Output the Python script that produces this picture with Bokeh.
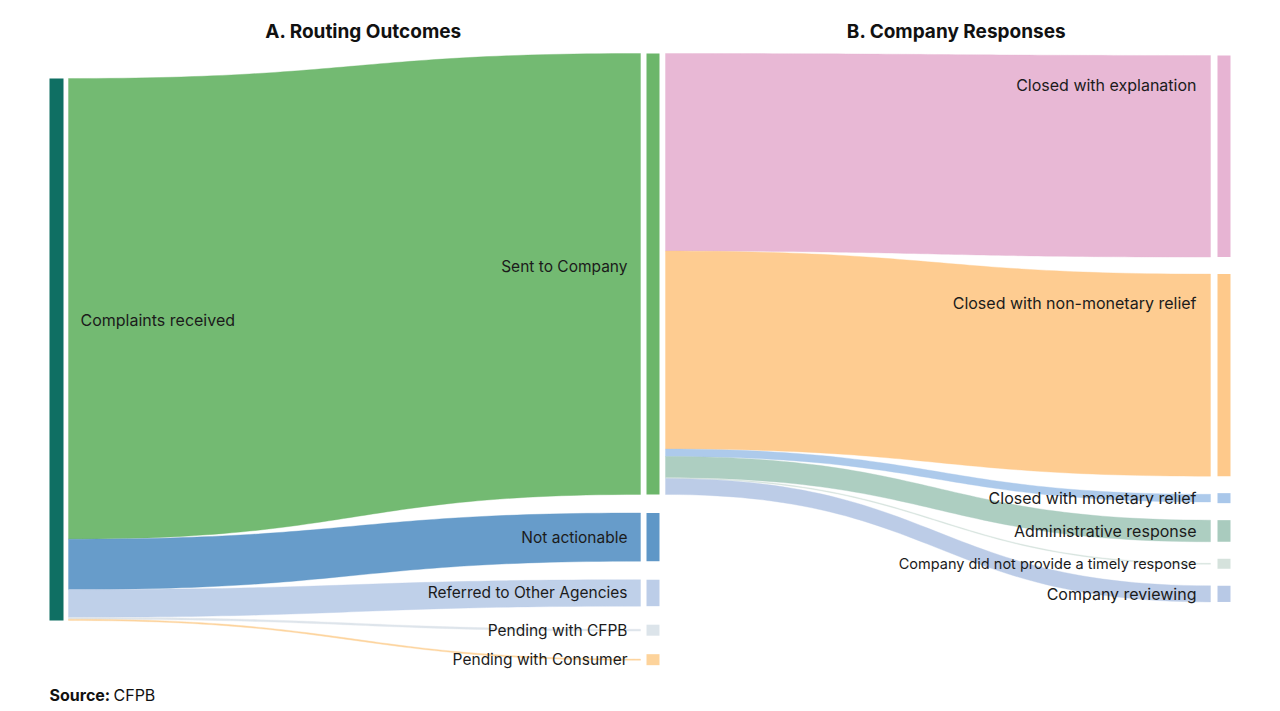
import numpy as np
from bokeh.plotting import figure
from bokeh.models import Range1d, ColumnDataSource
from bokeh.core.properties import value
from bokeh.embed import file_html
from bokeh.resources import INLINE

# ---------------- data ----------------
# Panel A: routing outcomes (% of complaints received)
a_source = "Complaints received"
a_source_color = "#0f6f63"
a_targets = ["Sent to Company", "Not actionable", "Referred to Other Agencies",
             "Pending with CFPB", "Pending with Consumer"]
a_values = [85.0, 9.3, 5.1, 0.35, 0.25]
a_colors = ["#6cb66a", "#5f97c7", "#bccde8", "#dce4ea", "#fdd39b"]

# Panel B: company responses (% of complaints sent to company)
b_targets = ["Closed with explanation", "Closed with non-monetary relief",
             "Closed with monetary relief", "Administrative response",
             "Company did not provide a timely response", "Company reviewing"]
b_values = [44.8, 44.9, 1.7, 4.8, 0.2, 3.6]
b_colors = ["#e7b4d3", "#fec98b", "#a9c7ea", "#a9cbbe", "#d5e2dc", "#b8c9e6"]

titles = ["A. Routing Outcomes", "B. Company Responses"]
source_note = ("Source:", "CFPB")

FONT = "Inter"
W, H = 1276, 707

# ---------------- layout helpers ----------------
def ribbon(x0, x1, y0t, y0b, y1t, y1b, n=60):
    t = np.linspace(0, 1, n)
    xm = (x0 + x1) / 2
    bx = (1 - t) ** 3 * x0 + 3 * (1 - t) ** 2 * t * xm + 3 * (1 - t) * t ** 2 * xm + t ** 3 * x1
    def by(a, b):
        return (1 - t) ** 3 * a + 3 * (1 - t) ** 2 * t * a + 3 * (1 - t) * t ** 2 * b + t ** 3 * b
    top = by(y0t, y1t)
    bot = by(y0b, y1b)
    return list(np.concatenate([bx, bx[::-1]])), list(np.concatenate([top, bot[::-1]]))


def stack_column(vals, top, scale, gap, min_h):
    tops, hs = [], []
    y = top
    for v in vals:
        h = max(v * scale, min_h)
        tops.append(y)
        hs.append(h)
        y += h + gap
    return tops, hs


p = figure(width=W, height=H, x_range=Range1d(0, W), y_range=Range1d(H, 0),
           output_backend="svg", toolbar_location=None, min_border=0,
           x_axis_type=None, y_axis_type=None)
p.grid.visible = False
p.outline_line_color = None
p.background_fill_color = "white"
p.border_fill_color = "white"

# ---------- panel A geometry ----------
A_src_x = (49, 63)
A_tgt_x = (646, 659)
A_link_x = (68, 640)
A_src_top, A_src_h = 78.0, 542.0
A_total = sum(a_values)
A_src_scale = A_src_h / A_total
A_tgt_scale = 5.188
a_tops, a_hs = stack_column(a_values, 53.0, A_tgt_scale, 18.5, 11.0)

# ---------- panel B geometry ----------
B_link_x = (665, 1210)
B_tgt_x = (1217, 1230)
b_src_top, b_src_h = a_tops[0], a_hs[0]
B_src_scale = b_src_h / sum(b_values)
B_tgt_scale = 4.5
b_tops, b_hs = stack_column(b_values, 55.0, B_tgt_scale, 17.0, 10.0)

# ---------- links ----------
xs_l, ys_l, cols_l = [], [], []
y = A_src_top
for v, t, h, c in zip(a_values, a_tops, a_hs, a_colors):
    w0 = v * A_src_scale
    w1 = v * A_tgt_scale
    t1 = t + (h - w1) / 2 if w1 < h else t
    xs, ys = ribbon(A_link_x[0], A_link_x[1], y, y + w0, t1, t1 + w1)
    xs_l.append(xs); ys_l.append(ys); cols_l.append(c)
    y += w0

y = b_src_top
for v, t, h, c in zip(b_values, b_tops, b_hs, b_colors):
    w0 = v * B_src_scale
    w1 = v * B_tgt_scale
    t1 = t + (h - w1) / 2 if w1 < h else t
    xs, ys = ribbon(B_link_x[0], B_link_x[1], y, y + w0, t1, t1 + w1)
    xs_l.append(xs); ys_l.append(ys); cols_l.append(c)
    y += w0

p.patches(xs=xs_l, ys=ys_l, fill_color=cols_l, fill_alpha=0.95,
          line_color=cols_l, line_alpha=0.6, line_width=0.6)

# ---------- nodes ----------
node_l, node_r, node_t, node_b, node_c = [], [], [], [], []
node_l.append(A_src_x[0]); node_r.append(A_src_x[1])
node_t.append(A_src_top); node_b.append(A_src_top + A_src_h); node_c.append(a_source_color)
for t, h, c in zip(a_tops, a_hs, a_colors):
    node_l.append(A_tgt_x[0]); node_r.append(A_tgt_x[1])
    node_t.append(t); node_b.append(t + h); node_c.append(c)
for t, h, c in zip(b_tops, b_hs, b_colors):
    node_l.append(B_tgt_x[0]); node_r.append(B_tgt_x[1])
    node_t.append(t); node_b.append(t + h); node_c.append(c)
p.quad(left=node_l, right=node_r, top=node_t, bottom=node_b, fill_color=node_c, line_color=None)

# ---------- labels ----------
lab_x, lab_y, lab_t, lab_align, lab_size = [], [], [], [], []
lab_x.append(A_src_x[1] + 17); lab_y.append(A_src_top + A_src_h * 0.445)
lab_t.append(a_source); lab_align.append("left"); lab_size.append("16px")
for name, t, h in zip(a_targets, a_tops, a_hs):
    lab_x.append(A_tgt_x[0] - 19); lab_y.append(t + h / 2 - (7 if h > 200 else 0))
    lab_t.append(name); lab_align.append("right"); lab_size.append("15.5px")
for name, t, h in zip(b_targets, b_tops, b_hs):
    lab_x.append(B_link_x[1] - 14); lab_y.append(t + min(h / 2, 29))
    lab_t.append(name); lab_align.append("right")
    lab_size.append("14.5px" if len(name) > 35 else "16px")

lsrc = ColumnDataSource(dict(x=lab_x, y=lab_y, text=lab_t, align=lab_align, size=lab_size))
p.text(x="x", y="y", text="text", source=lsrc, text_align="align", text_baseline="middle",
       text_font=value(FONT), text_font_size="size", text_color="#1b1b1b")

# titles
p.text(x=[363, 956], y=[31, 31], text=titles, text_align="center", text_baseline="middle",
       text_font=value(FONT), text_font_size="19px", text_font_style="bold", text_color="#111111")

# source note
p.text(x=[49], y=[694], text=[source_note[0]], text_align="left", text_baseline="middle",
       text_font=value(FONT), text_font_size="16px", text_font_style="bold", text_color="#111111")
p.text(x=[113], y=[694], text=[source_note[1]], text_align="left", text_baseline="middle",
       text_font=value(FONT), text_font_size="16px", text_color="#111111")

open("out.html", "w").write(file_html(p, INLINE))
